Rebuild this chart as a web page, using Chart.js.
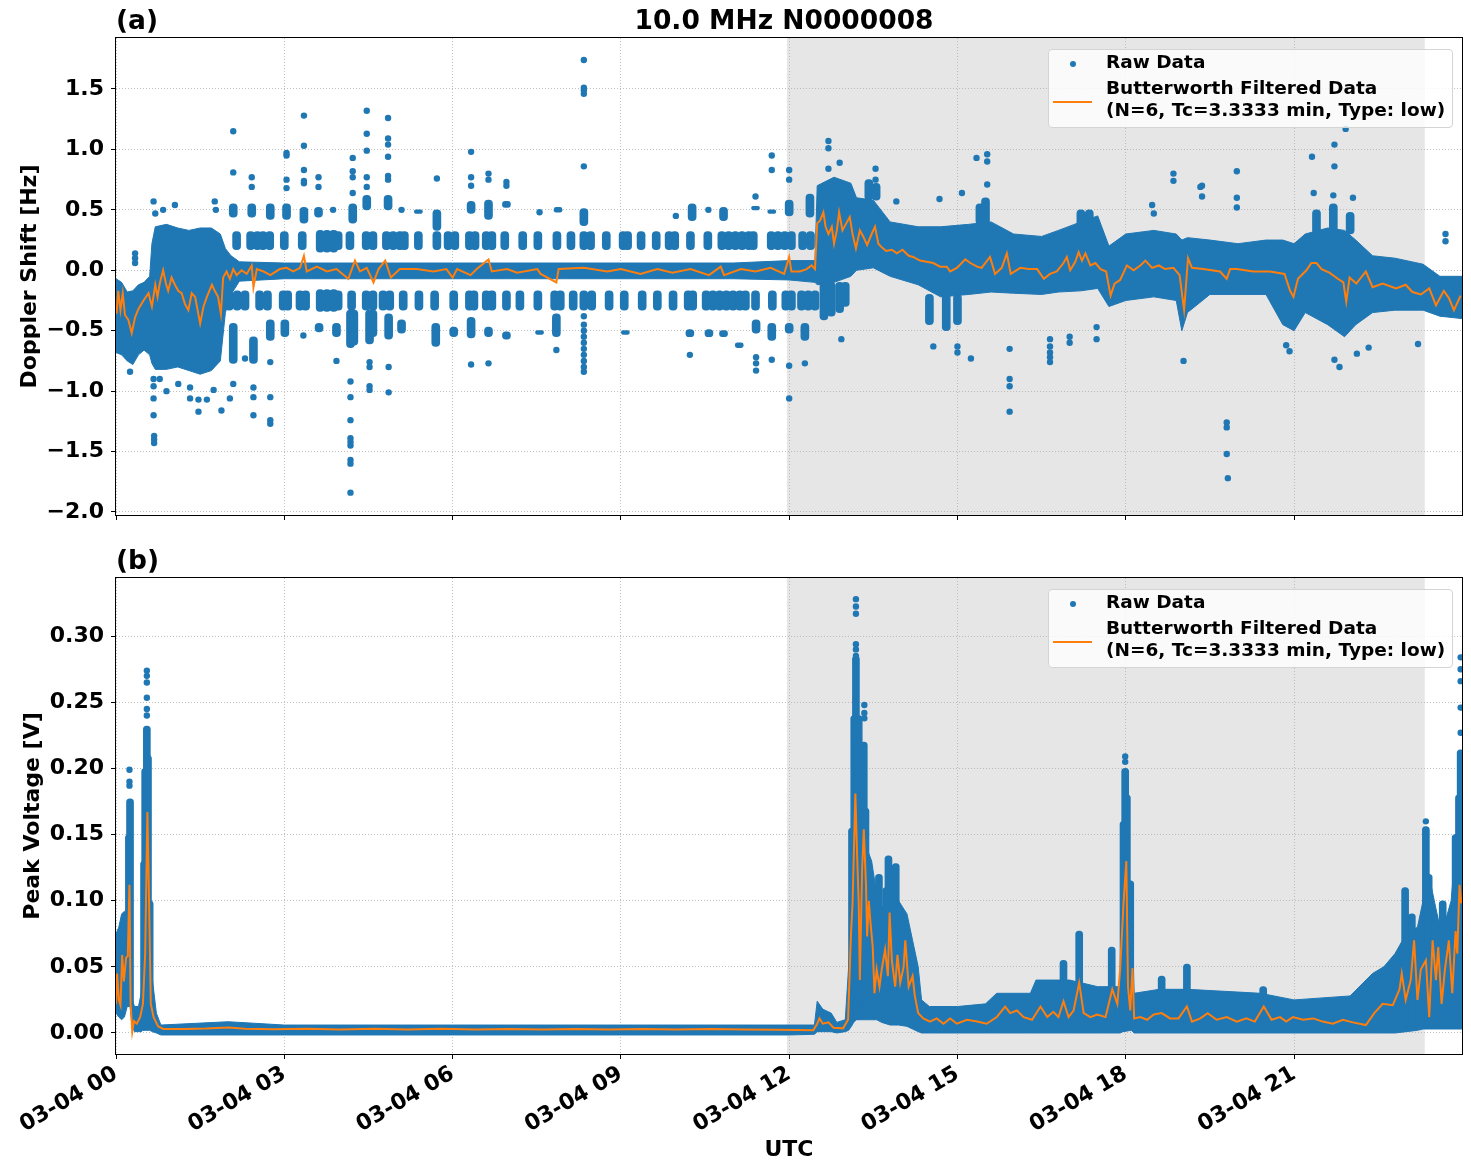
<!DOCTYPE html>
<html><head><meta charset="utf-8">
<script src="https://cdn.jsdelivr.net/npm/chart.js@4.4.1/dist/chart.umd.min.js"></script>
<style>
body{margin:0;background:#fff;}
#wrap{position:relative;width:1471px;height:1172px;overflow:hidden;font-family:'DejaVu Sans',sans-serif;color:#000;}
canvas{position:absolute;left:0;}
.ttl{position:absolute;font-weight:bold;font-size:26.5px;line-height:30px;white-space:nowrap;}
.leg{position:absolute;left:1048px;width:405px;height:79px;box-sizing:border-box;border:1px solid #d4d4d4;border-radius:4px;background:rgba(255,255,255,0.8);font-weight:bold;font-size:18.5px;}
.leg .dot{position:absolute;left:21px;top:11px;width:6px;height:6px;border-radius:50%;background:#1f77b4;}
.leg .ln{position:absolute;left:4px;top:51px;width:39px;height:2px;background:#ff7f0e;}
.leg .tx{position:absolute;left:57px;line-height:22px;white-space:nowrap;}
</style></head>
<body>
<div id="wrap">
<canvas id="c1" width="1471" height="530" style="top:0"></canvas>
<canvas id="c2" width="1471" height="632" style="top:540px"></canvas>
<div class="ttl" style="left:116px;top:5px">(a)</div>
<div class="ttl" style="left:111px;width:1346px;top:5px;text-align:center">10.0 MHz N0000008</div>
<div class="ttl" style="left:116px;top:545px">(b)</div>
<div class="leg" style="top:49px"><span class="dot"></span><span class="ln"></span><div class="tx" style="top:1px">Raw Data</div><div class="tx" style="top:27px">Butterworth Filtered Data<br>(N=6, Tc=3.3333 min, Type: low)</div></div>
<div class="leg" style="top:589px"><span class="dot"></span><span class="ln"></span><div class="tx" style="top:1px">Raw Data</div><div class="tx" style="top:27px">Butterworth Filtered Data<br>(N=6, Tc=3.3333 min, Type: low)</div></div>
</div>
<script>
// ---------- axes ----------
const xTickVals = [0,3,6,9,12,15,18,21];
const xTickLabels = ['03-04 00','03-04 03','03-04 06','03-04 09','03-04 12','03-04 15','03-04 18','03-04 21'];
const xMin = 0, xMax = 23.994;
const shadeStart = 11.96, shadeEnd = 23.33;
const dopYTicks = [-2.0,-1.5,-1.0,-0.5,0.0,0.5,1.0,1.5];
const dopYMin = -2.025, dopYMax = 1.922;
const voltYTicks = [0.00,0.05,0.10,0.15,0.20,0.25,0.30];
const voltYMin = -0.0159, voltYMax = 0.344;

// ---------- (a) Doppler shift ----------
// dense raw-data envelope (hours UTC, Hz)
const dopBandT  = [0.00,0.10,0.20,0.30,0.40,0.50,0.60,0.64,0.70,0.90,1.10,1.30,1.50,1.70,1.86,1.95,2.05,2.20,3.00,4.00,5.00,6.00,7.00,8.00,9.00,10.00,11.00,12.00,12.46,12.50,12.80,13.10,13.20,13.50,13.80,14.30,14.70,15.20,15.60,16.00,16.50,16.80,17.20,17.50,17.70,18.00,18.50,18.90,19.00,19.10,19.50,20.00,20.50,20.80,21.00,21.20,21.60,21.90,22.10,22.40,22.80,23.30,23.60,23.994];
const dopBandLo = [-0.68,-0.70,-0.75,-0.78,-0.70,-0.66,-0.70,-0.77,-0.82,-0.82,-0.80,-0.83,-0.86,-0.83,-0.75,-0.35,-0.20,-0.09,-0.07,-0.07,-0.07,-0.07,-0.07,-0.07,-0.07,-0.07,-0.07,-0.08,-0.10,-0.12,-0.10,-0.05,0.00,0.02,-0.05,-0.12,-0.22,-0.20,-0.18,-0.19,-0.20,-0.18,-0.17,-0.15,-0.30,-0.25,-0.22,-0.25,-0.50,-0.35,-0.20,-0.20,-0.20,-0.45,-0.50,-0.35,-0.45,-0.55,-0.45,-0.35,-0.33,-0.33,-0.38,-0.40];
const dopBandHi = [-0.07,-0.10,-0.18,-0.17,-0.12,-0.10,-0.05,0.22,0.36,0.38,0.35,0.33,0.35,0.35,0.30,0.18,0.12,0.07,0.06,0.06,0.06,0.06,0.06,0.06,0.06,0.06,0.06,0.08,0.08,0.70,0.77,0.72,0.60,0.58,0.40,0.36,0.36,0.38,0.40,0.30,0.28,0.33,0.40,0.45,0.20,0.30,0.33,0.30,0.25,0.27,0.25,0.22,0.25,0.25,0.22,0.30,0.35,0.33,0.25,0.12,0.10,0.05,-0.05,-0.05];
// raw-data clusters [t, low, high]
const dopClusters = [
 [2.15,0.17,0.32],[2.40,0.17,0.32],[2.52,0.17,0.32],[2.62,0.17,0.32],[2.74,0.17,0.32],[3.00,0.17,0.32],[3.32,0.17,0.32],[3.64,0.15,0.33],[3.76,0.15,0.33],[3.88,0.15,0.33],[3.96,0.17,0.32],
 [4.17,0.17,0.32],[4.46,0.17,0.32],[4.58,0.17,0.32],[4.82,0.17,0.32],[4.94,0.17,0.32],[5.06,0.17,0.32],[5.14,0.17,0.32],[5.39,0.17,0.32],[5.72,0.17,0.32],[5.92,0.17,0.32],[6.04,0.17,0.32],
 [6.30,0.17,0.32],[6.40,0.17,0.32],[6.60,0.17,0.32],[6.70,0.17,0.32],[6.93,0.17,0.32],[7.25,0.17,0.32],[7.52,0.17,0.32],[7.86,0.17,0.32],[8.11,0.17,0.32],[8.34,0.17,0.32],[8.46,0.17,0.32],
 [8.74,0.17,0.32],[9.04,0.17,0.32],[9.12,0.17,0.32],[9.36,0.17,0.32],[9.63,0.17,0.32],[9.86,0.17,0.32],[9.96,0.17,0.32],[10.24,0.17,0.32],[10.55,0.17,0.32],[10.80,0.17,0.32],[10.92,0.17,0.32],
 [11.04,0.17,0.32],[11.16,0.17,0.32],[11.28,0.17,0.32],[11.36,0.17,0.32],[11.68,0.17,0.32],[11.80,0.17,0.32],[11.92,0.17,0.32],[12.04,0.17,0.32],[12.24,0.17,0.32],[12.38,0.17,0.32],
 [2.02,-0.33,-0.17],[2.16,-0.33,-0.17],[2.30,-0.33,-0.17],[2.56,-0.33,-0.17],[2.70,-0.33,-0.17],[2.98,-0.33,-0.17],[3.06,-0.33,-0.17],[3.28,-0.33,-0.17],[3.38,-0.33,-0.17],[3.64,-0.34,-0.16],
 [3.76,-0.34,-0.16],[3.88,-0.34,-0.16],[3.96,-0.33,-0.17],[4.20,-0.33,-0.17],[4.46,-0.33,-0.17],[4.58,-0.33,-0.17],[4.76,-0.33,-0.17],[4.88,-0.33,-0.17],[5.12,-0.33,-0.17],[5.40,-0.33,-0.17],
 [5.68,-0.33,-0.17],[6.02,-0.33,-0.17],[6.30,-0.33,-0.17],[6.38,-0.33,-0.17],[6.60,-0.33,-0.17],[6.70,-0.33,-0.17],[6.96,-0.33,-0.17],[7.20,-0.33,-0.17],[7.52,-0.33,-0.17],[7.82,-0.33,-0.17],
 [7.92,-0.33,-0.17],[8.15,-0.33,-0.17],[8.34,-0.33,-0.17],[8.48,-0.33,-0.17],[8.79,-0.33,-0.17],[9.06,-0.33,-0.17],[9.38,-0.33,-0.17],[9.65,-0.33,-0.17],[9.93,-0.33,-0.17],[10.20,-0.33,-0.17],
 [10.28,-0.33,-0.17],[10.52,-0.33,-0.17],[10.64,-0.33,-0.17],[10.76,-0.33,-0.17],[10.88,-0.33,-0.17],[11.00,-0.33,-0.17],[11.12,-0.33,-0.17],[11.22,-0.33,-0.17],[11.40,-0.33,-0.17],[11.70,-0.33,-0.17],
 [11.94,-0.33,-0.17],[12.04,-0.33,-0.17],[12.22,-0.33,-0.17],[12.34,-0.33,-0.17],[12.46,-0.33,-0.17],
 [2.09,0.44,0.55],[2.42,0.44,0.55],[2.75,0.42,0.55],[3.04,0.42,0.55],[3.35,0.39,0.52],[3.61,0.44,0.52],[4.22,0.39,0.55],[4.47,0.50,0.62],[4.85,0.50,0.62],[5.39,0.47,0.50],[5.72,0.33,0.50],
 [6.33,0.47,0.57],[6.64,0.42,0.58],[6.96,0.52,0.57],[7.88,0.48,0.52],[8.34,0.37,0.51],[10.27,0.41,0.55],[10.83,0.41,0.52],[11.40,0.50,0.53],[11.69,0.47,0.50],[12.00,0.45,0.58],[12.37,0.44,0.63],
 [2.09,-0.77,-0.44],[2.45,-0.77,-0.55],[2.75,-0.58,-0.41],[3.01,-0.55,-0.41],[3.62,-0.51,-0.44],[3.93,-0.55,-0.44],[4.18,-0.64,-0.33],[4.24,-0.62,-0.33],[4.52,-0.61,-0.33],[4.58,-0.55,-0.33],
 [4.86,-0.57,-0.36],[5.09,-0.52,-0.41],[5.70,-0.63,-0.44],[6.02,-0.55,-0.47],[6.33,-0.56,-0.39],[6.64,-0.55,-0.47],[6.96,-0.57,-0.51],[7.55,-0.53,-0.50],[7.85,-0.55,-0.36],[9.08,-0.53,-0.50],
 [10.23,-0.55,-0.49],[10.57,-0.55,-0.49],[10.83,-0.55,-0.50],[11.11,-0.64,-0.60],[11.41,-0.52,-0.41],[11.69,-0.58,-0.44],[12.00,-0.52,-0.44],[12.28,-0.58,-0.44],
 [12.62,-0.41,-0.10],[12.75,-0.38,-0.10],[12.90,-0.35,-0.10],[13.00,-0.30,-0.10],[13.42,0.58,0.75],[13.55,0.58,0.72],[14.50,-0.45,-0.20],[14.80,-0.50,-0.20],[15.00,-0.45,-0.20],
 [15.40,0.38,0.55],[15.50,0.38,0.60],[17.20,0.35,0.50],[17.35,0.35,0.50],[21.40,0.30,0.50],[21.70,0.30,0.55],[22.00,0.30,0.48]
];
// isolated raw points [t, value]
const dopDots = [
 [0.34,0.14],[0.34,0.10],[0.34,0.06],[0.25,-0.84],[0.67,0.57],[0.70,0.47],[0.84,0.50],[1.05,0.54],[1.76,0.57],[1.78,0.50],[0.67,-0.90],[0.67,-0.96],[0.67,-1.06],[0.67,-1.20],[0.68,-1.37],
 [0.68,-1.40],[0.68,-1.43],[0.78,-0.90],[0.90,-1.00],[1.11,-0.94],[1.32,-0.97],[1.32,-1.06],[1.47,-1.07],[1.47,-1.17],[1.62,-1.07],[1.74,-0.99],[1.88,-1.16],[2.03,-1.06],[2.30,-0.73],
 [2.09,0.81],[2.09,1.15],[2.42,0.77],[2.42,0.69],[3.04,0.68],[3.04,0.75],[3.04,0.97],[3.04,0.95],[3.35,0.72],[3.35,0.74],[3.35,0.83],[3.35,1.03],[3.35,1.28],[3.61,0.69],[3.61,0.77],[3.87,0.50],
 [4.22,0.64],[4.22,0.77],[4.22,0.82],[4.22,0.93],[4.47,0.69],[4.47,0.77],[4.47,0.99],[4.47,1.13],[4.47,1.32],[4.85,0.75],[4.85,0.78],[4.85,0.94],[4.85,1.04],[4.85,1.09],[4.85,1.26],[5.09,0.50],
 [5.72,0.76],[6.33,0.70],[6.33,0.77],[6.33,0.98],[6.64,0.75],[6.64,0.80],[6.96,0.70],[6.96,0.73],[7.55,0.48],[8.34,0.86],[8.34,1.46],[8.34,1.49],[8.34,1.51],[8.34,1.74],[9.98,0.45],[10.56,0.50],
 [11.40,0.61],[11.69,0.83],[11.69,0.95],[12.00,0.75],[12.00,0.83],
 [2.09,-0.94],[2.45,-0.97],[2.45,-1.05],[2.45,-1.20],[2.75,-0.76],[2.75,-1.05],[2.75,-1.24],[2.75,-1.27],[3.34,-0.54],[3.93,-0.75],[4.18,-0.92],[4.18,-1.05],[4.18,-1.24],[4.18,-1.39],[4.18,-1.42],
 [4.18,-1.45],[4.18,-1.57],[4.18,-1.60],[4.18,-1.84],[4.52,-0.76],[4.52,-0.80],[4.52,-0.96],[4.52,-0.99],[4.86,-0.80],[4.86,-1.01],[6.33,-0.78],[6.64,-0.77],[7.85,-0.66],[8.34,-0.30],[8.34,-0.38],
 [8.34,-0.45],[8.34,-0.50],[8.34,-0.55],[8.34,-0.60],[8.34,-0.65],[8.34,-0.70],[8.34,-0.75],[8.34,-0.80],[8.34,-0.84],[10.23,-0.70],[11.41,-0.72],[11.41,-0.77],[11.41,-0.83],[11.69,-0.74],[12.00,-0.79],
 [12.00,-1.06],[12.28,-0.77],
 [12.70,1.07],[12.70,1.01],[12.70,0.84],[12.90,0.89],[12.93,-0.57],[13.54,0.84],[13.54,0.75],[13.91,0.57],[14.68,0.59],[14.57,-0.63],[15.00,-0.63],[15.00,-0.68],[15.08,0.64],[15.24,-0.73],[15.34,0.93],
 [15.53,0.96],[15.53,0.90],[15.53,0.71],[15.93,-0.65],[15.93,-0.90],[15.93,-0.96],[15.93,-1.17],[16.65,-0.57],[16.65,-0.63],[16.65,-0.68],[16.65,-0.72],[16.65,-0.76],[17.00,-0.55],[17.00,-0.60],
 [17.48,-0.47],[17.48,-0.57],[18.85,0.80],[18.85,0.74],[19.03,-0.75],[19.36,0.70],[19.36,0.61],[19.80,-1.26],[19.80,-1.30],[19.80,-1.52],[19.82,-1.72],[19.98,0.82],[19.98,0.60],[19.98,0.52],
 [20.86,-0.62],[20.92,-0.67],[21.32,0.94],[21.72,1.04],[21.72,0.86],[21.92,1.17],[21.72,-0.74],[21.81,-0.80],[22.12,-0.69],[22.33,-0.64],[23.21,-0.61],[23.70,0.30],[23.70,0.24],[18.47,0.54],
 [18.50,0.47],[19.33,0.69],[21.35,0.64],[21.70,0.62],[22.05,0.60]
];
// Butterworth filtered series [t, value]
const dopFilt = [
 [0.01,-0.36],[0.04,-0.17],[0.08,-0.33],[0.12,-0.19],[0.16,-0.37],[0.22,-0.41],[0.28,-0.52],[0.34,-0.39],[0.40,-0.32],[0.49,-0.25],[0.58,-0.19],[0.64,-0.30],[0.70,-0.12],[0.74,-0.22],[0.78,-0.11],
 [0.84,0.00],[0.89,-0.11],[0.93,-0.17],[0.99,-0.06],[1.05,-0.12],[1.11,-0.17],[1.17,-0.19],[1.23,-0.28],[1.29,-0.33],[1.35,-0.19],[1.41,-0.22],[1.50,-0.44],[1.56,-0.30],[1.62,-0.22],[1.71,-0.12],
 [1.76,-0.17],[1.82,-0.22],[1.87,-0.36],[1.91,-0.06],[1.97,-0.01],[2.03,-0.07],[2.09,0.01],[2.15,-0.04],[2.24,0.00],[2.33,-0.03],[2.42,0.04],[2.45,-0.14],[2.51,0.01],[2.63,-0.01],[2.75,-0.04],
 [2.92,0.01],[3.04,0.02],[3.16,-0.01],[3.28,0.02],[3.35,0.12],[3.40,-0.01],[3.58,0.03],[3.76,-0.01],[3.93,0.01],[4.14,-0.07],[4.26,0.08],[4.35,-0.01],[4.47,0.02],[4.59,-0.10],[4.68,0.01],
 [4.80,0.08],[4.90,-0.06],[5.06,0.01],[5.36,0.01],[5.66,-0.01],[5.89,0.01],[6.00,-0.06],[6.08,0.01],[6.32,-0.04],[6.43,0.01],[6.64,0.09],[6.70,-0.01],[6.97,0.01],[7.15,-0.02],[7.51,0.01],
 [7.57,-0.03],[7.85,-0.10],[7.89,0.01],[8.34,0.02],[8.76,-0.01],[9.00,0.01],[9.35,-0.03],[9.65,0.01],[9.92,-0.02],[10.24,0.01],[10.57,-0.04],[10.78,0.03],[10.84,-0.04],[11.14,0.01],[11.40,-0.01],
 [11.67,0.02],[11.91,-0.03],[12.00,0.11],[12.04,-0.01],[12.19,-0.01],[12.31,0.01],[12.40,0.04],[12.46,0.01],[12.50,0.39],[12.55,0.41],[12.61,0.48],[12.65,0.36],[12.70,0.30],[12.76,0.36],[12.80,0.22],
 [12.85,0.33],[12.89,0.48],[12.95,0.33],[13.02,0.39],[13.08,0.44],[13.13,0.30],[13.19,0.18],[13.26,0.33],[13.32,0.28],[13.39,0.21],[13.47,0.30],[13.53,0.36],[13.59,0.22],[13.65,0.19],[13.73,0.16],
 [13.83,0.17],[13.92,0.14],[14.02,0.17],[14.13,0.12],[14.21,0.11],[14.33,0.08],[14.45,0.07],[14.57,0.06],[14.69,0.03],[14.81,0.03],[14.87,-0.01],[14.99,0.02],[15.14,0.09],[15.23,0.06],[15.35,0.03],
 [15.43,0.02],[15.58,0.11],[15.67,-0.03],[15.79,0.02],[15.88,0.14],[15.95,-0.03],[16.12,0.02],[16.27,0.01],[16.42,0.01],[16.54,-0.07],[16.65,-0.03],[16.77,-0.01],[16.89,0.06],[16.95,0.11],[17.01,0.00],
 [17.10,0.07],[17.16,0.15],[17.22,0.08],[17.28,0.14],[17.37,0.04],[17.46,0.06],[17.55,0.01],[17.65,-0.01],[17.73,-0.21],[17.80,-0.11],[17.90,-0.08],[18.02,0.04],[18.14,0.00],[18.26,0.04],[18.35,0.08],
 [18.47,0.02],[18.59,0.04],[18.70,0.01],[18.85,0.02],[18.96,-0.04],[19.04,-0.33],[19.11,0.10],[19.18,0.02],[19.38,0.01],[19.68,-0.01],[19.80,-0.07],[19.86,0.01],[19.98,0.01],[20.27,-0.01],[20.57,-0.01],
 [20.83,-0.03],[20.93,-0.17],[20.99,-0.22],[21.07,-0.07],[21.22,0.00],[21.31,0.06],[21.40,0.06],[21.49,0.01],[21.63,-0.02],[21.78,-0.07],[21.88,-0.10],[21.93,-0.26],[21.99,-0.06],[22.11,-0.11],[22.28,-0.01],
 [22.40,-0.14],[22.58,-0.11],[22.82,-0.15],[22.99,-0.12],[23.11,-0.18],[23.26,-0.20],[23.41,-0.15],[23.53,-0.29],[23.67,-0.17],[23.76,-0.23],[23.85,-0.33],[23.97,-0.21]
];

// ---------- (b) Peak voltage ----------
const voltBandT  = [0.00,0.05,0.10,0.15,0.20,0.25,0.29,0.33,0.40,0.45,0.48,0.52,0.60,0.65,0.72,0.80,2.00,3.00,6.00,9.00,12.00,12.45,12.50,12.60,12.75,12.85,13.00,13.06,13.11,13.15,13.20,13.26,13.32,13.38,13.47,13.56,13.65,13.80,13.95,14.10,14.20,14.30,14.36,14.50,15.00,15.50,15.70,16.30,16.40,17.00,17.50,17.90,17.95,18.10,18.15,18.60,19.10,20.40,21.00,22.00,22.40,22.60,22.80,23.00,23.20,23.30,23.40,23.50,23.60,23.70,23.80,23.90,23.994];
const voltBandLo = [0.015,0.012,0.010,0.012,0.020,0.020,0.005,0.001,0.001,0.001,0.002,0.002,0.002,0.001,0.000,-0.0015,-0.0015,-0.0015,-0.0015,-0.0015,-0.0015,-0.001,0.001,0.001,0.001,0.000,0.001,0.002,0.005,0.008,0.010,0.010,0.010,0.010,0.010,0.010,0.008,0.006,0.006,0.005,0.003,0.001,0.000,0.000,0.000,0.000,0.000,0.000,0.000,0.000,0.000,0.000,0.001,0.002,0.000,0.000,0.000,0.000,0.000,0.000,0.000,0.000,0.000,0.001,0.002,0.003,0.003,0.003,0.003,0.003,0.003,0.003,0.003];
const voltBandHi = [0.075,0.080,0.090,0.092,0.090,0.060,0.025,0.020,0.020,0.030,0.060,0.090,0.080,0.040,0.015,0.006,0.0085,0.006,0.006,0.006,0.006,0.006,0.024,0.018,0.015,0.008,0.010,0.050,0.080,0.130,0.150,0.150,0.145,0.140,0.130,0.105,0.095,0.100,0.100,0.090,0.070,0.050,0.025,0.020,0.020,0.022,0.030,0.030,0.040,0.040,0.035,0.035,0.060,0.100,0.030,0.033,0.033,0.030,0.025,0.028,0.045,0.050,0.060,0.075,0.080,0.100,0.120,0.100,0.080,0.085,0.100,0.150,0.200];
const voltClusters = [
 [0.25,0.020,0.177],[0.23,0.030,0.150],[0.52,0.010,0.200],[0.55,0.005,0.232],[0.57,0.010,0.210],[0.50,0.010,0.130],[0.60,0.005,0.100],
 [13.12,0.010,0.155],[13.16,0.010,0.240],[13.19,0.010,0.285],[13.21,0.010,0.220],[13.24,0.020,0.240],[13.28,0.020,0.200],[13.33,0.020,0.220],[13.36,0.020,0.170],[13.60,0.020,0.120],
 [13.77,0.020,0.134],[13.90,0.020,0.128],[13.73,0.020,0.110],[13.85,0.020,0.110],
 [16.89,0.005,0.055],[17.17,0.005,0.077],[17.75,0.005,0.065],[17.96,0.005,0.160],[17.99,0.005,0.200],[18.02,0.005,0.180],[18.08,0.005,0.115],[18.64,0.005,0.043],[19.09,0.005,0.052],[20.45,0.005,0.035],
 [22.74,0.005,0.050],[22.98,0.005,0.110],[23.10,0.005,0.090],[23.35,0.005,0.156],[23.40,0.005,0.120],[23.50,0.010,0.090],[23.65,0.010,0.100],[23.88,0.005,0.150],[23.94,0.010,0.180],[23.97,0.010,0.214]
];
const voltDots = [
 [0.24,0.187],[0.24,0.190],[0.24,0.199],[0.55,0.240],[0.55,0.245],[0.55,0.2535],[0.55,0.265],[0.55,0.270],[0.55,0.274],
 [13.19,0.285],[13.19,0.290],[13.19,0.294],[13.19,0.317],[13.19,0.3225],[13.19,0.328],[13.34,0.238],[13.34,0.242],[13.34,0.248],
 [17.99,0.205],[17.99,0.209],[23.35,0.160],[23.97,0.227],[23.97,0.246],[23.97,0.266],[23.97,0.275],[23.97,0.284]
];
const voltFilt = [
 [0.00,0.022],[0.02,0.045],[0.05,0.025],[0.08,0.021],[0.11,0.059],[0.14,0.039],[0.18,0.057],[0.21,0.058],[0.24,0.112],[0.26,0.022],[0.29,0.001],[0.32,0.009],[0.37,0.007],[0.43,0.012],[0.48,0.022],
 [0.52,0.060],[0.56,0.167],[0.59,0.098],[0.62,0.022],[0.67,0.012],[0.75,0.005],[0.84,0.003],[1.2,0.003],[1.6,0.0033],[2.0,0.0042],[2.3,0.0032],[2.8,0.0028],[3.4,0.0032],[4.0,0.0027],[4.6,0.0031],
 [5.2,0.0027],[5.8,0.0031],[6.4,0.0027],[7.0,0.003],[7.6,0.0026],[8.2,0.003],[8.8,0.0026],[9.4,0.003],[10.0,0.0027],[10.6,0.003],[11.2,0.0026],[11.8,0.0025],[12.43,0.002],[12.50,0.007],[12.54,0.011],
 [12.60,0.007],[12.70,0.008],[12.79,0.004],[12.96,0.0035],[13.05,0.010],[13.10,0.073],[13.13,0.098],[13.18,0.181],[13.21,0.136],[13.24,0.098],[13.26,0.040],[13.30,0.123],[13.33,0.154],[13.37,0.111],
 [13.39,0.073],[13.42,0.100],[13.45,0.083],[13.49,0.065],[13.52,0.030],[13.56,0.048],[13.61,0.035],[13.65,0.048],[13.71,0.063],[13.76,0.043],[13.79,0.091],[13.83,0.055],[13.89,0.035],[13.93,0.059],
 [13.98,0.038],[14.04,0.050],[14.07,0.070],[14.13,0.035],[14.20,0.043],[14.24,0.028],[14.30,0.015],[14.39,0.011],[14.51,0.0086],[14.63,0.011],[14.75,0.007],[14.87,0.011],[14.99,0.007],[15.17,0.010],
 [15.35,0.0086],[15.52,0.007],[15.70,0.012],[15.85,0.020],[15.94,0.015],[16.06,0.017],[16.18,0.012],[16.33,0.010],[16.48,0.020],[16.60,0.012],[16.71,0.016],[16.80,0.012],[16.89,0.024],[16.98,0.012],
 [17.07,0.017],[17.17,0.038],[17.25,0.015],[17.37,0.012],[17.49,0.014],[17.64,0.012],[17.76,0.033],[17.85,0.022],[17.90,0.048],[17.96,0.098],[18.01,0.130],[18.04,0.035],[18.08,0.017],[18.12,0.049],
 [18.15,0.011],[18.26,0.012],[18.38,0.010],[18.50,0.014],[18.64,0.015],[18.79,0.011],[18.94,0.011],[19.09,0.020],[19.18,0.0086],[19.33,0.011],[19.46,0.015],[19.62,0.010],[19.80,0.012],[19.98,0.0086],
 [20.15,0.011],[20.30,0.0086],[20.46,0.020],[20.60,0.010],[20.75,0.012],[20.86,0.0086],[20.98,0.012],[21.16,0.010],[21.34,0.011],[21.51,0.0086],[21.69,0.007],[21.87,0.010],[22.05,0.008],[22.28,0.006],
 [22.43,0.015],[22.58,0.022],[22.76,0.021],[22.88,0.033],[22.92,0.045],[22.99,0.025],[23.08,0.040],[23.14,0.070],[23.20,0.025],[23.26,0.048],[23.35,0.055],[23.41,0.012],[23.47,0.070],[23.53,0.040],
 [23.57,0.065],[23.63,0.022],[23.69,0.048],[23.76,0.070],[23.82,0.030],[23.88,0.077],[23.91,0.060],[23.95,0.112],[23.98,0.098]
];

// ---------- rendering ----------
const BLUE = '#1f77b4', ORANGE = '#ff7f0e';
const FAMILY = "'DejaVu Sans', sans-serif";
Chart.defaults.font.family = FAMILY;
Chart.defaults.color = '#000';
const pairs = a => a.map(p => ({x: p[0], y: p[1]}));
const ranges = a => a.map(p => ({x: p[0], y: [p[1], p[2]]}));
const band = (t, v) => t.map((x, i) => ({x, y: v[i]}));
const minus = s => s.replace('-', '\u2212');

const shadePlugin = {
  id: 'shade',
  beforeDraw(chart) {
    const {ctx, chartArea: a, scales: {x}} = chart;
    const x0 = Math.max(a.left, x.getPixelForValue(shadeStart));
    const x1 = Math.min(a.right, x.getPixelForValue(shadeEnd));
    ctx.save(); ctx.fillStyle = '#e6e6e6';
    ctx.fillRect(x0, a.top, x1 - x0, a.bottom - a.top); ctx.restore();
  }
};
const framePlugin = {
  id: 'frame',
  afterDraw(chart) {
    const {ctx, chartArea: a} = chart;
    ctx.save(); ctx.strokeStyle = '#000'; ctx.lineWidth = 1;
    ctx.strokeRect(Math.round(a.left) - 0.5, Math.round(a.top) - 0.5, Math.round(a.right - a.left) + 1, Math.round(a.bottom - a.top) + 1);
    ctx.restore();
  }
};

const gridOpts = {color: '#b0b0b0', lineWidth: 0.8, tickColor: '#000', tickLength: 5, tickWidth: 1, tickBorderDash: [], offset: false, drawTicks: true};
const tickFont = {family: FAMILY, size: 22, weight: 'bold'};
const titleFont = {family: FAMILY, size: 22, weight: 'bold'};

function buildChart(id, o) {
  return new Chart(document.getElementById(id), {
    type: 'scatter',
    data: {datasets: [
      {type: 'line', data: pairs(o.filt), borderColor: ORANGE, borderWidth: 2, pointRadius: 0, fill: false, tension: 0, order: 0, clip: 0},
      {type: 'scatter', data: pairs(o.dots), pointBackgroundColor: BLUE, pointBorderWidth: 0, pointRadius: 3.2, order: 1, clip: 0},
      {type: 'bar', data: ranges(o.clus), backgroundColor: BLUE, barThickness: o.barW, borderRadius: o.barW / 2, borderSkipped: false, grouped: false, order: 2, clip: 0},
      {type: 'line', data: band(o.bandT, o.bandLo), borderColor: BLUE, borderWidth: 1, pointRadius: 0, fill: false, tension: 0, order: 3, clip: 0},
      {type: 'line', data: band(o.bandT, o.bandHi), borderColor: BLUE, backgroundColor: BLUE, borderWidth: 1, pointRadius: 0, fill: '-1', tension: 0, order: 4, clip: 0}
    ]},
    options: {
      responsive: false, animation: false, events: [], devicePixelRatio: 1,
      layout: {padding: {top: 38, right: 9, left: 0, bottom: 0}},
      plugins: {legend: {display: false}, tooltip: {enabled: false}},
      scales: {
        x: {
          type: 'linear', min: xMin, max: xMax, offset: false,
          afterBuildTicks: s => { s.ticks = xTickVals.map(v => ({value: v})); },
          ticks: {display: o.showX, autoSkip: false, maxRotation: 30, minRotation: 30, padding: 2, font: tickFont, color: '#000',
                  callback: v => xTickLabels[xTickVals.indexOf(v)]},
          grid: gridOpts, border: {display: false, dash: [1, 2]},
          title: {display: o.showX, text: 'UTC', font: titleFont, color: '#000', padding: {top: 0, bottom: 9}},
          afterFit: s => { s.height = o.xH; s.paddingLeft = 0; s.paddingRight = 0; }
        },
        y: {
          type: 'linear', min: o.yMin, max: o.yMax,
          afterBuildTicks: s => { s.ticks = o.yTicks.map(v => ({value: v})); },
          ticks: {autoSkip: false, padding: 7, font: tickFont, color: '#000', callback: v => minus(v.toFixed(o.dec))},
          grid: gridOpts, border: {display: false, dash: [1, 2]},
          title: {display: true, text: o.yTitle, font: titleFont, color: '#000', padding: {top: o.yTitlePad, bottom: 0}},
          afterFit: s => { s.width = 116; s.paddingTop = 0; s.paddingBottom = 0; }
        }
      }
    },
    plugins: [shadePlugin, framePlugin]
  });
}

buildChart('c1', {filt: dopFilt, dots: dopDots, clus: dopClusters, barW: 8, bandT: dopBandT, bandLo: dopBandLo, bandHi: dopBandHi,
  yMin: dopYMin, yMax: dopYMax, yTicks: dopYTicks, dec: 1, yTitle: 'Doppler Shift [Hz]', yTitlePad: 17, showX: false, xH: 15});
buildChart('c2', {filt: voltFilt, dots: voltDots, clus: voltClusters, barW: 7, bandT: voltBandT, bandLo: voltBandLo, bandHi: voltBandHi,
  yMin: voltYMin, yMax: voltYMax, yTicks: voltYTicks, dec: 2, yTitle: 'Peak Voltage [V]', yTitlePad: 20, showX: true, xH: 118});
</script>
</body></html>
